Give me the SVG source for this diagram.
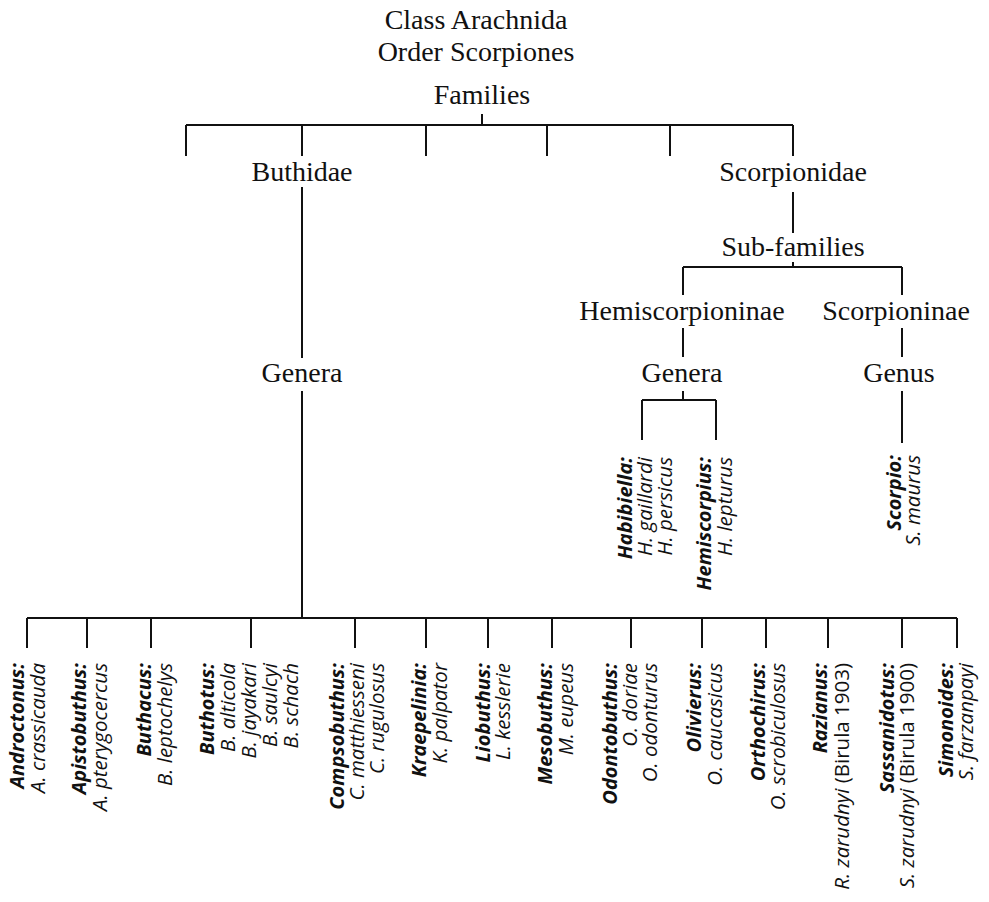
<svg xmlns="http://www.w3.org/2000/svg" width="989" height="902" viewBox="0 0 989 902">
<style>
.t{font-family:"Liberation Serif","Times New Roman",serif;font-size:28px;fill:#111;text-anchor:middle}
.sp{font-family:"Open Sans","Liberation Sans",sans-serif;font-size:20.5px;font-style:italic;fill:#111;text-anchor:end}
.g{font-weight:bold;font-size:20px}
.r{font-style:normal}
#connectors path{stroke:#111;stroke-width:2;fill:none}
</style>
<rect width="989" height="902" fill="#fff"/>
<g id="connectors">
<path d="M482 114V125M186 125H793M186 125V156M302 125V156M426 125V156M547 125V156M670 125V156M793 125V156"/>
<path d="M302 187V358M302 391V618"/>
<path d="M27 618H957M27 618V648M87 618V648M151 618V648M251 618V648M355 618V648M426 618V648M488 618V648M552 618V648M631 618V648M702 618V648M766 618V648M828 618V648M902 618V648M957 618V648"/>
<path d="M793 192V233M793 262V267M683 267H902M683 267V295M902 267V295"/>
<path d="M683 328V357M683 391V400M642 400H716M642 400V440M716 400V440"/>
<path d="M902 328V357M902 391V443"/>
</g>
<g id="title"><text class="t" x="476" y="29">Class Arachnida</text><text class="t" x="476" y="61">Order Scorpiones</text></g>
<g id="families"><text class="t" x="482" y="104">Families</text></g>
<g id="buthidae"><text class="t" x="302" y="181">Buthidae</text></g>
<g id="scorpionidae"><text class="t" x="793" y="181">Scorpionidae</text></g>
<g id="buthidae-genera"><text class="t" x="302" y="382">Genera</text></g>
<g id="subfamilies"><text class="t" x="793" y="256">Sub-families</text></g>
<g id="hemiscorpioninae"><text class="t" x="682" y="320">Hemiscorpioninae</text></g>
<g id="scorpioninae"><text class="t" x="896" y="320">Scorpioninae</text></g>
<g id="hemi-genera"><text class="t" x="682" y="382">Genera</text></g>
<g id="genus"><text class="t" x="899" y="382">Genus</text></g>
<g id="habibiella"><text class="sp" transform="translate(632 457) rotate(-90)"><tspan class="g" x="0" y="0">Habibiella:</tspan><tspan x="0" y="20">H. gaillardi</tspan><tspan x="0" y="40">H. persicus</tspan></text></g>
<g id="hemiscorpius"><text class="sp" transform="translate(711 457) rotate(-90)"><tspan class="g" x="0" y="0">Hemiscorpius:</tspan><tspan x="0" y="21">H. lepturus</tspan></text></g>
<g id="scorpio"><text class="sp" transform="translate(901 455) rotate(-90)"><tspan class="g" x="0" y="0">Scorpio:</tspan><tspan x="0" y="19">S. maurus</tspan></text></g>
<g id="androctonus"><text class="sp" transform="translate(24 663) rotate(-90)"><tspan class="g" x="0" y="0">Androctonus:</tspan><tspan x="0" y="21">A. crassicauda</tspan></text></g>
<g id="apistobuthus"><text class="sp" transform="translate(86 663) rotate(-90)"><tspan class="g" x="0" y="0">Apistobuthus:</tspan><tspan x="0" y="21">A. pterygocercus</tspan></text></g>
<g id="buthacus"><text class="sp" transform="translate(151 663) rotate(-90)"><tspan class="g" x="0" y="0">Buthacus:</tspan><tspan x="0" y="21">B. leptochelys</tspan></text></g>
<g id="buthotus"><text class="sp" transform="translate(214 663) rotate(-90)"><tspan class="g" x="0" y="0">Buthotus:</tspan><tspan x="0" y="21">B. alticola</tspan><tspan x="0" y="42">B. jayakari</tspan><tspan x="0" y="63">B. saulcyi</tspan><tspan x="0" y="84">B. schach</tspan></text></g>
<g id="compsobuthus"><text class="sp" transform="translate(344 663) rotate(-90)"><tspan class="g" x="0" y="0">Compsobuthus:</tspan><tspan x="0" y="20">C. matthiesseni</tspan><tspan x="0" y="40">C. rugulosus</tspan></text></g>
<g id="kraepelinia"><text class="sp" transform="translate(426 663) rotate(-90)"><tspan class="g" x="0" y="0">Kraepelinia:</tspan><tspan x="0" y="21">K. palpator</tspan></text></g>
<g id="liobuthus"><text class="sp" transform="translate(490 663) rotate(-90)"><tspan class="g" x="0" y="0">Liobuthus:</tspan><tspan x="0" y="20">L. kesslerie</tspan></text></g>
<g id="mesobuthus"><text class="sp" transform="translate(552 663) rotate(-90)"><tspan class="g" x="0" y="0">Mesobuthus:</tspan><tspan x="0" y="21">M. eupeus</tspan></text></g>
<g id="odontobuthus"><text class="sp" transform="translate(617 663) rotate(-90)"><tspan class="g" x="0" y="0">Odontobuthus:</tspan><tspan x="0" y="20">O. doriae</tspan><tspan x="0" y="40">O. odonturus</tspan></text></g>
<g id="olivierus"><text class="sp" transform="translate(701 663) rotate(-90)"><tspan class="g" x="0" y="0">Olivierus:</tspan><tspan x="0" y="21">O. caucasicus</tspan></text></g>
<g id="orthochirus"><text class="sp" transform="translate(765 663) rotate(-90)"><tspan class="g" x="0" y="0">Orthochirus:</tspan><tspan x="0" y="20">O. scrobiculosus</tspan></text></g>
<g id="razianus"><text class="sp" transform="translate(827 663) rotate(-90)"><tspan class="g" x="0" y="0">Razianus:</tspan><tspan x="0" y="22">R. zarudnyi <tspan class="r">(Birula 1903)</tspan></tspan></text></g>
<g id="sassanidotus"><text class="sp" transform="translate(894 663) rotate(-90)"><tspan class="g" x="0" y="0">Sassanidotus:</tspan><tspan x="0" y="20">S. zarudnyi <tspan class="r">(Birula 1900)</tspan></tspan></text></g>
<g id="simonoides"><text class="sp" transform="translate(953 663) rotate(-90)"><tspan class="g" x="0" y="0">Simonoides:</tspan><tspan x="0" y="20">S. farzanpayi</tspan></text></g>
</svg>
